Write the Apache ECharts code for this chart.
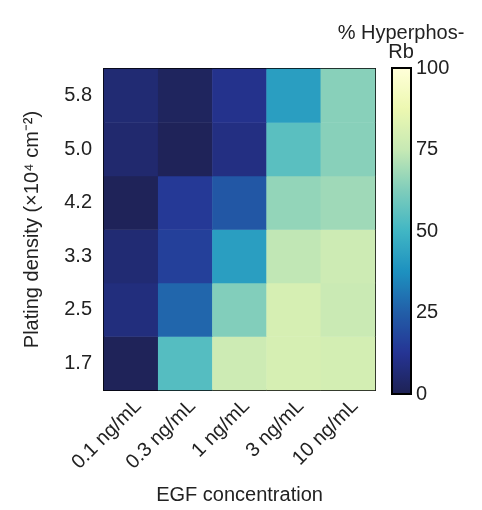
<!DOCTYPE html>
<html><head><meta charset="utf-8">
<script src="https://cdn.jsdelivr.net/npm/echarts@6/dist/echarts.min.js"></script>
<style>html,body{margin:0;padding:0;background:#fff}#c{width:482px;height:510px}</style>
</head><body><div id="c"></div>
<script>
const egf = ['0.1 ng/mL','0.3 ng/mL','1 ng/mL','3 ng/mL','10 ng/mL'];
const density = ['1.7','2.5','3.3','4.2','5.0','5.8'];
// rows follow density (bottom to top), columns follow egf
const row_1_7 = [1, 54, 77, 80, 79];
const row_2_5 = [8, 27, 63, 80, 76];
const row_3_3 = [6, 16, 42, 74, 77];
const row_4_2 = [1, 14, 23, 66, 68];
const row_5_0 = [5, 1, 9, 55, 64];
const row_5_8 = [6, 2, 11, 42, 64];
const cbTicks = [0, 25, 50, 75, 100];

const rows = [row_1_7, row_2_5, row_3_3, row_4_2, row_5_0, row_5_8];
const data = [];
rows.forEach((r, yi) => r.forEach((v, xi) => data.push([xi, yi, v])));

const FONT = 'Liberation Sans, Arial, Helvetica, sans-serif';
const FS = 20;
const chart = echarts.init(document.getElementById('c'));
chart.setOption({
  animation: false,
  textStyle: {fontFamily: FONT},
  grid: [
    {left: 104, top: 69, width: 271, height: 324},
    {left: 392, top: 68, width: 19, height: 326}
  ],
  xAxis: [
    {type: 'category', data: egf, gridIndex: 0, position: 'bottom',
     axisLine: {show: true, lineStyle: {color: '#000', width: 2}},
     axisTick: {show: false},
     axisLabel: {rotate: 45, fontSize: FS, color: '#222', margin: 6, fontFamily: FONT, verticalAlign: 'top'},
     name: 'EGF concentration', nameLocation: 'middle', nameGap: 95,
     nameTextStyle: {fontSize: FS, color: '#222', fontFamily: FONT}},
    {type: 'category', data: egf, gridIndex: 0, position: 'top',
     axisLine: {show: true, lineStyle: {color: '#000', width: 2}},
     axisTick: {show: false}, axisLabel: {show: false}},
    {type: 'value', gridIndex: 1, min: 0, max: 1, show: false}
  ],
  yAxis: [
    {type: 'category', data: density, gridIndex: 0, position: 'left',
     axisLine: {show: true, lineStyle: {color: '#000', width: 2}},
     axisTick: {show: false},
     axisLabel: {fontSize: FS, color: '#222', margin: 12, fontFamily: FONT},
     name: 'Plating density (×10⁴ cm⁻²)', nameLocation: 'middle', nameGap: 62,
     nameTextStyle: {fontSize: FS, color: '#222', fontFamily: FONT}},
    {type: 'category', data: density, gridIndex: 0, position: 'right',
     axisLine: {show: true, lineStyle: {color: '#000', width: 2}},
     axisTick: {show: false}, axisLabel: {show: false}},
    {type: 'value', gridIndex: 1, min: 0, max: 100, interval: 25, position: 'right',
     axisLine: {show: false},
     axisTick: {show: true, inside: false, length: 3, lineStyle: {color: '#000', width: 1.5}},
     axisLabel: {fontSize: FS, color: '#222', margin: 5, fontFamily: FONT,
       formatter: v => cbTicks.includes(v) ? String(v) : ''},
     splitLine: {show: false}}
  ],
  visualMap: {
    type: 'continuous', min: 0, max: 100, calculable: false, show: true,
    seriesIndex: 0, orient: 'vertical', left: 392, top: 68,
    itemWidth: 19, itemHeight: 326, padding: 0, text: null, showLabel: false,
    inRange: {color: ['#1e2254','#253494','#225ea8','#1d91c0','#41b6c4','#7fcdbb','#c7e9b4','#edf8b1','#ffffd9']}
  },
  graphic: [
    {type: 'rect', shape: {x: 392, y: 68, width: 19, height: 326}, z: 100,
     style: {fill: 'none', stroke: '#000', lineWidth: 2}},
    {type: 'text', x: 401, y: 24, z: 100,
     style: {text: '% Hyperphos-\nRb', fill: '#222', font: FS + 'px ' + FONT, textAlign: 'center', lineHeight: 19}}
  ],
  series: [{
    type: 'heatmap', xAxisIndex: 0, yAxisIndex: 0, data: data,
    itemStyle: {borderWidth: 0}, emphasis: {disabled: true}
  }]
});
</script></body></html>
